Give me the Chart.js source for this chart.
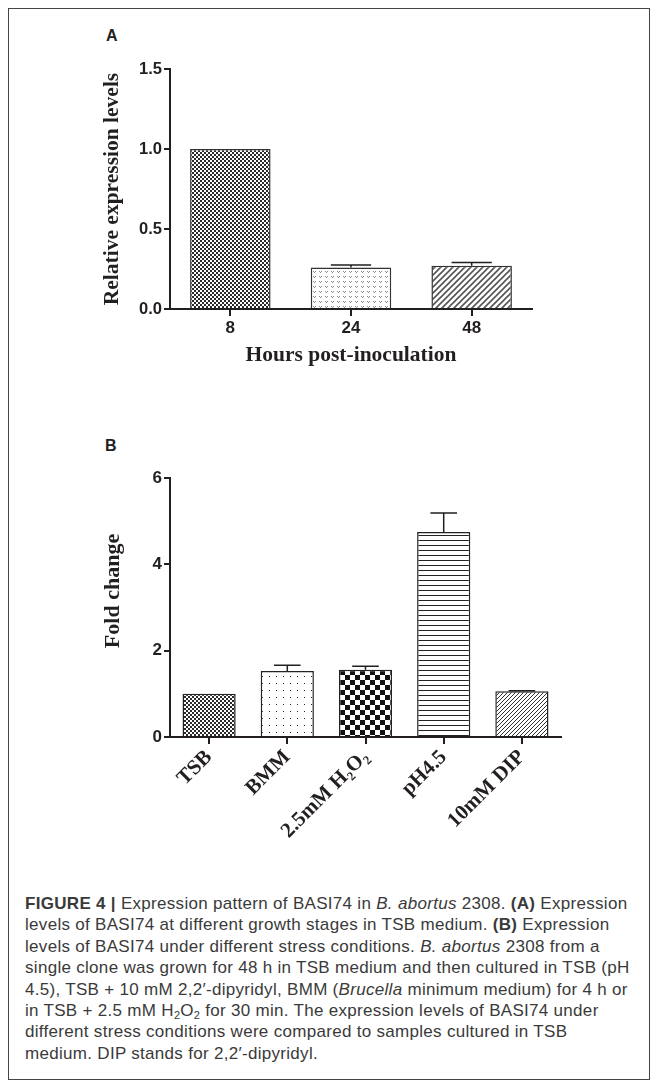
<!DOCTYPE html>
<html>
<head>
<meta charset="utf-8">
<script src="https://cdn.jsdelivr.net/npm/chart.js@4.4.1/dist/chart.umd.min.js"></script>
<style>
  body { margin: 0; background: #fff; width: 657px; height: 1086px; position: relative; overflow: hidden; }
  .frame { position: absolute; left: 8px; top: 8px; width: 640px; height: 1070px; border: 1px solid #444; }
  canvas { position: absolute; left: 0; }
  #chartA { top: 0; }
  #chartB { top: 400px; }
  .panel { position: absolute; font: bold 16px "Liberation Sans", Arial, sans-serif; color: #231f20; }
  .caption {
    position: absolute; left: 25px; top: 893px; width: 625px;
    font: 17px "Liberation Sans", Arial, sans-serif; color: #3a3a3a;
    letter-spacing: 0.3px; line-height: 21.4px; white-space: nowrap;
  }
  .caption sub { font-size: 11px; line-height: 0; vertical-align: -3px; }
</style>
</head>
<body>
<div class="frame"></div>
<div class="panel" style="left:106px; top:27px;">A</div>
<canvas id="chartA" width="657" height="368"></canvas>
<div class="panel" style="left:105px; top:437px;">B</div>
<canvas id="chartB" width="657" height="445"></canvas>
<div class="caption">
<b>FIGURE 4 |</b> Expression pattern of BASI74 in <i>B. abortus</i> 2308. <b>(A)</b> Expression<br>
levels of BASI74 at different growth stages in TSB medium. <b>(B)</b> Expression<br>
levels of BASI74 under different stress conditions. <i>B. abortus</i> 2308 from a<br>
single clone was grown for 48 h in TSB medium and then cultured in TSB (pH<br>
4.5), TSB + 10 mM 2,2′-dipyridyl, BMM (<i>Brucella</i> minimum medium) for 4 h or<br>
in TSB + 2.5 mM H<sub>2</sub>O<sub>2</sub> for 30 min. The expression levels of BASI74 under<br>
different stress conditions were compared to samples cultured in TSB<br>
medium. DIP stands for 2,2′-dipyridyl.
</div>
<script>
// panel A
const hoursLabels = ["8", "24", "48"];
const hoursValues = [1.0, 0.26, 0.27];
const hoursErrors = [0, 0.015, 0.02];
const hoursTicks = [0, 0.5, 1.0, 1.5];

// panel B
const stressLabels = ["TSB", "BMM", "2.5mM H\u2082O\u2082", "pH4.5", "10mM DIP"];
const stressValues = [1.0, 1.53, 1.56, 4.75, 1.06];
const stressErrors = [0, 0.13, 0.08, 0.44, 0.01];
const stressTicks = [0, 2, 4, 6];

const ink = "#231f20";
const sans = '"Liberation Sans", Arial, sans-serif';
const serif = '"Liberation Serif", "Times New Roman", serif';

Chart.defaults.animation = false;
Chart.defaults.color = ink;

function makePattern(w, h, draw) {
  const c = document.createElement("canvas");
  c.width = w;
  c.height = h;
  const g = c.getContext("2d");
  g.fillStyle = "#fff";
  g.fillRect(0, 0, w, h);
  draw(g);
  return g.createPattern(c, "repeat");
}

const fineChecker = makePattern(4, 4, (g) => {
  g.fillStyle = "#2a2a2a";
  g.fillRect(0, 0, 2, 2);
  g.fillRect(2, 2, 2, 2);
});
const lightDots = makePattern(6, 5, (g) => {
  g.fillStyle = "#8a8a8a";
  g.fillRect(1, 1, 1, 1);
  g.fillRect(3, 1, 1, 1);
  g.fillRect(2, 2, 1, 1);
});
const grayDiag = makePattern(6, 6, (g) => {
  g.strokeStyle = "#555";
  g.lineWidth = 1.6;
  g.beginPath();
  g.moveTo(-1, 7); g.lineTo(7, -1);
  g.moveTo(-4, 4); g.lineTo(4, -4);
  g.moveTo(2, 10); g.lineTo(10, 2);
  g.stroke();
});
const sparseDots = makePattern(7, 7, (g) => {
  g.fillStyle = "#222";
  g.fillRect(3, 3, 1, 1);
});
const bigChecker = makePattern(10, 10, (g) => {
  g.fillStyle = "#111";
  g.fillRect(0, 0, 5, 5);
  g.fillRect(5, 5, 5, 5);
});
const hLines = makePattern(4, 5, (g) => {
  g.fillStyle = "#222";
  g.fillRect(0, 0, 4, 1);
});
const thinDiag = makePattern(4, 4, (g) => {
  g.strokeStyle = "#333";
  g.lineWidth = 1;
  g.beginPath();
  g.moveTo(0, 4); g.lineTo(4, 0);
  g.moveTo(-2, 2); g.lineTo(2, -2);
  g.moveTo(2, 6); g.lineTo(6, 2);
  g.stroke();
});

// upper error bars, drawn from each bar's own scale position
const errorBars = {
  id: "errorBars",
  afterDatasetsDraw(chart, args, opts) {
    const ctx = chart.ctx;
    const meta = chart.getDatasetMeta(0);
    const values = chart.data.datasets[0].data;
    const y = chart.scales.y;
    ctx.save();
    ctx.strokeStyle = ink;
    ctx.lineWidth = 1.5;
    meta.data.forEach((bar, i) => {
      const err = opts.errors[i];
      if (!err) return;
      const top = y.getPixelForValue(values[i] + err);
      const half = bar.width / 4;
      ctx.beginPath();
      ctx.moveTo(bar.x, bar.y);
      ctx.lineTo(bar.x, top);
      ctx.moveTo(bar.x - half, top);
      ctx.lineTo(bar.x + half, top);
      ctx.stroke();
    });
    ctx.restore();
  },
};

function axisGrid(len) {
  return {
    display: true,
    drawOnChartArea: false,
    drawTicks: true,
    tickLength: len,
    color: ink,
    lineWidth: 2,
    offset: false,
  };
}

new Chart(document.getElementById("chartA"), {
  type: "bar",
  data: {
    labels: hoursLabels,
    datasets: [
      {
        data: hoursValues,
        backgroundColor: [fineChecker, lightDots, grayDiag],
        borderColor: "#333",
        borderWidth: 1.5,
        borderSkipped: "bottom",
        categoryPercentage: 1,
        barPercentage: 0.667,
      },
    ],
  },
  options: {
    responsive: false,
    layout: { padding: { left: 100, top: 69, right: 125, bottom: 0 } },
    plugins: {
      legend: { display: false },
      tooltip: { enabled: false },
      errorBars: { errors: hoursErrors },
    },
    scales: {
      x: {
        offset: true,
        grid: axisGrid(7),
        border: { display: true, color: ink, width: 2 },
        ticks: { font: { family: sans, size: 17, weight: "bold" }, padding: 2, color: ink },
        title: {
          display: true,
          text: "Hours post-inoculation",
          font: { family: serif, size: 21.5, weight: "bold" },
          padding: { top: 0, bottom: 0 },
          color: ink,
        },
        afterFit: (s) => { s.height = 59; },
      },
      y: {
        min: 0,
        max: 1.5,
        afterBuildTicks: (s) => { s.ticks = hoursTicks.map((v) => ({ value: v })); },
        grid: axisGrid(6),
        border: { display: true, color: ink, width: 2 },
        ticks: {
          font: { family: sans, size: 16.5, weight: "bold" },
          padding: 2,
          color: ink,
          callback: (v) => Number(v).toFixed(1),
        },
        title: {
          display: true,
          text: "Relative expression levels",
          font: { family: serif, size: 21.5, weight: "bold" },
          padding: { top: 0, bottom: 0 },
          color: ink,
        },
        afterFit: (s) => { s.width = 70; },
      },
    },
  },
  plugins: [errorBars],
});

new Chart(document.getElementById("chartB"), {
  type: "bar",
  data: {
    labels: stressLabels,
    datasets: [
      {
        data: stressValues,
        backgroundColor: [fineChecker, sparseDots, bigChecker, hLines, thinDiag],
        borderColor: "#222",
        borderWidth: 1.5,
        borderSkipped: "bottom",
        categoryPercentage: 1,
        barPercentage: 0.68,
      },
    ],
  },
  options: {
    responsive: false,
    layout: { padding: { left: 100, top: 78, right: 96, bottom: 0 } },
    plugins: {
      legend: { display: false },
      tooltip: { enabled: false },
      errorBars: { errors: stressErrors },
    },
    scales: {
      x: {
        offset: true,
        grid: axisGrid(7),
        border: { display: true, color: ink, width: 2 },
        ticks: {
          font: { family: serif, size: 21, weight: "bold" },
          padding: 1,
          color: ink,
          minRotation: 45,
          maxRotation: 45,
          autoSkip: false,
        },
        afterFit: (s) => { s.height = 108; },
      },
      y: {
        min: 0,
        max: 6,
        afterBuildTicks: (s) => { s.ticks = stressTicks.map((v) => ({ value: v })); },
        grid: axisGrid(6),
        border: { display: true, color: ink, width: 2 },
        ticks: { font: { family: sans, size: 17, weight: "bold" }, padding: 2, color: ink },
        title: {
          display: true,
          // leading spaces lift the title a little above the axis centre, as in the source
          text: "      Fold change",
          font: { family: serif, size: 22, weight: "bold" },
          padding: { top: 0, bottom: 0 },
          color: ink,
        },
        afterFit: (s) => { s.width = 70; },
      },
    },
  },
  plugins: [errorBars],
});
</script>
</body>
</html>
